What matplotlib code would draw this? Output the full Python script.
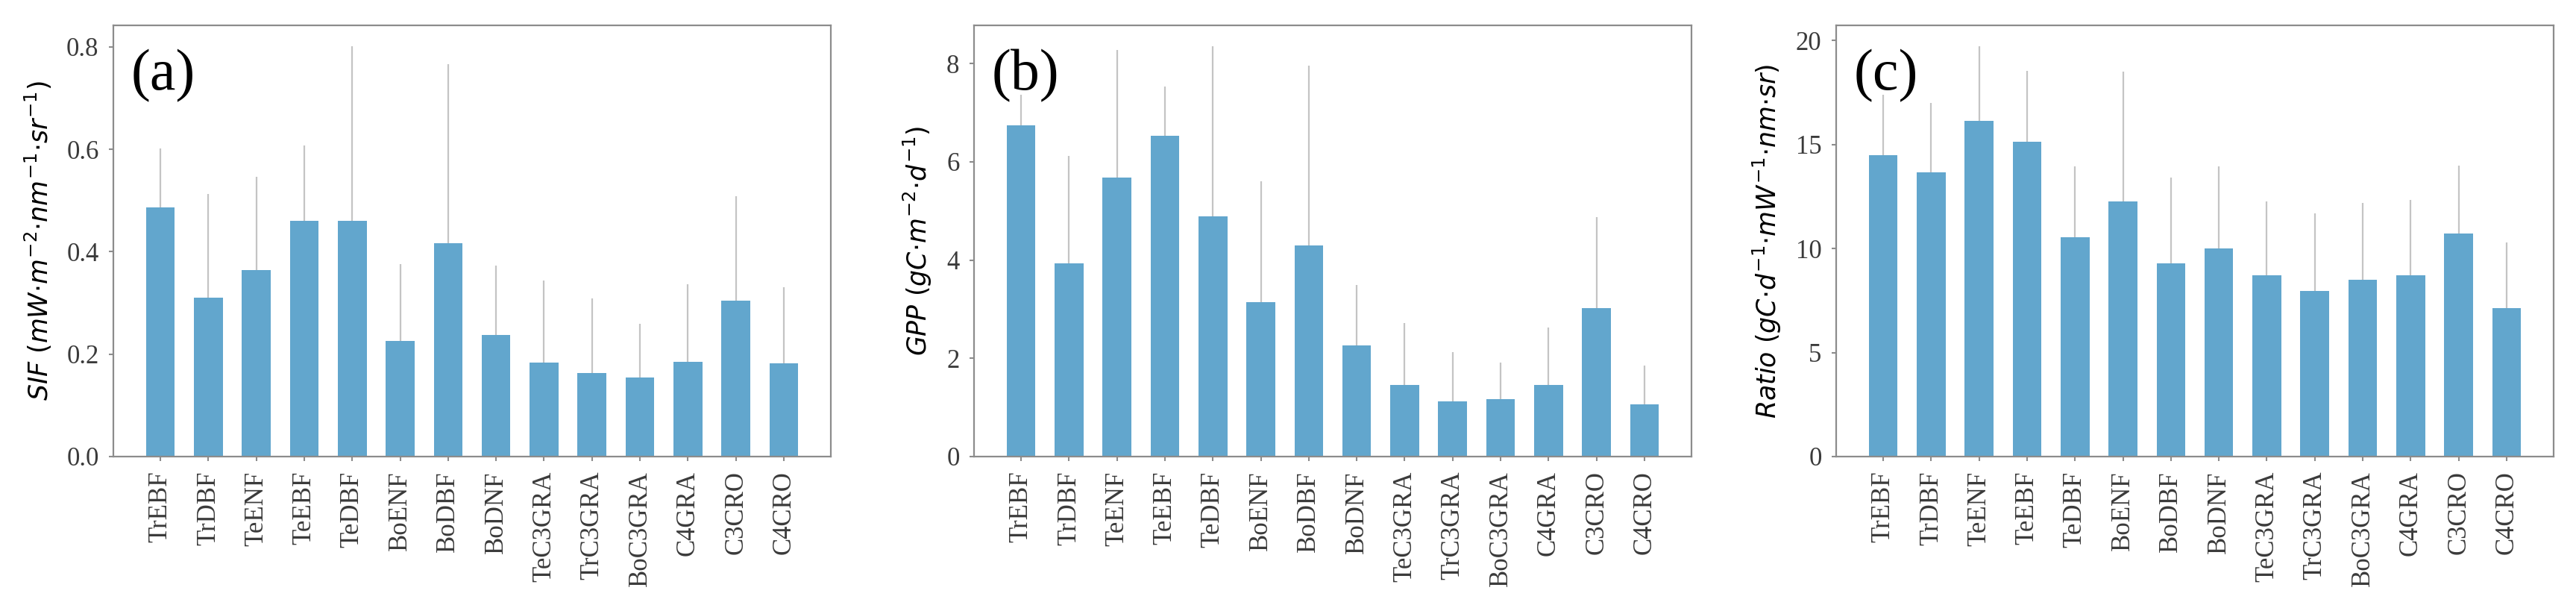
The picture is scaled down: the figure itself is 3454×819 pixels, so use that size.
import matplotlib
matplotlib.use("Agg")
import matplotlib.pyplot as plt
import numpy as np

# plant functional types
pfts = ["TrEBF", "TrDBF", "TeENF", "TeEBF", "TeDBF", "BoENF", "BoDBF",
        "BoDNF", "TeC3GRA", "TrC3GRA", "BoC3GRA", "C4GRA", "C3CRO", "C4CRO"]

# (a) SIF mean and top of error line
sif_mean = [0.486, 0.311, 0.364, 0.460, 0.460, 0.226, 0.417,
            0.237, 0.183, 0.163, 0.154, 0.185, 0.305, 0.182]
sif_top = [0.601, 0.513, 0.546, 0.608, 0.802, 0.376, 0.766,
           0.373, 0.344, 0.309, 0.260, 0.336, 0.508, 0.330]

# (b) GPP
gpp_mean = [6.74, 3.94, 5.68, 6.53, 4.89, 3.14, 4.30,
            2.27, 1.46, 1.13, 1.17, 1.46, 3.02, 1.07]
gpp_top = [7.37, 6.12, 8.27, 7.54, 8.36, 5.61, 7.96,
           3.50, 2.72, 2.13, 1.91, 2.63, 4.87, 1.85]

# (c) GPP/SIF ratio
ratio_mean = [14.47, 13.67, 16.15, 15.15, 10.56, 12.26, 9.27,
              10.00, 8.72, 7.97, 8.50, 8.72, 10.71, 7.12]
ratio_top = [17.4, 16.99, 19.74, 18.55, 13.95, 18.52, 13.42,
             13.95, 12.26, 11.69, 12.18, 12.35, 14.0, 10.30]

ylabels = [r"$SIF\ (mW{\cdot}m^{-2}{\cdot}nm^{-1}{\cdot}sr^{-1})$",
           r"$GPP\ (gC{\cdot}m^{-2}{\cdot}d^{-1})$",
           r"$Ratio\ (gC{\cdot}d^{-1}{\cdot}mW^{-1}{\cdot}nm{\cdot}sr)$"]
tags = ["(a)", "(b)", "(c)"]
yticks = [[0.0, 0.2, 0.4, 0.6, 0.8], [0, 2, 4, 6, 8], [0, 5, 10, 15, 20]]

bar_color = "#62a6cd"
spine_color = "#8c8c8c"
serif = "Liberation Serif"

fig = plt.figure(figsize=(34.55, 8.19), dpi=100)
lefts = [152 / 3455, 1306 / 3455, 2462 / 3455]
w = 962 / 3455
b = 1 - 612 / 819
h = (612 - 34) / 819

data = [(sif_mean, sif_top), (gpp_mean, gpp_top), (ratio_mean, ratio_top)]

for i in range(3):
    ax = fig.add_axes([lefts[i], b, w, h])
    mean, top = data[i]
    mean = np.array(mean)
    top = np.array(top)
    x = np.arange(len(pfts))
    err = np.vstack([np.zeros(len(mean)), top - mean])
    ax.bar(x, mean, width=0.6, color=bar_color, yerr=err,
           error_kw=dict(ecolor="#c4c4c4", elinewidth=1.6, capsize=0))
    ax.set_xticks(x)
    ax.set_xticklabels(pfts, rotation=90, fontfamily=serif, fontsize=25, color="#3a3a3a")
    ax.set_yticks(yticks[i])
    if i == 0:
        ax.set_yticklabels(["%.1f" % v for v in yticks[i]])
    for lab in ax.get_yticklabels():
        lab.set_fontfamily(serif)
        lab.set_fontsize(25)
        lab.set_color("#3a3a3a")
    ax.set_ylabel(ylabels[i], fontsize=25, labelpad=12)
    for s in ax.spines.values():
        s.set_color(spine_color)
        s.set_linewidth(1.6)
    ax.tick_params(length=4, width=1.5, color=spine_color, pad=10)
    ax.text(0.025, 0.945, tags[i], transform=ax.transAxes, fontfamily=serif,
            fontsize=56, va="top", ha="left")

fig.savefig("out.png", dpi=100)
